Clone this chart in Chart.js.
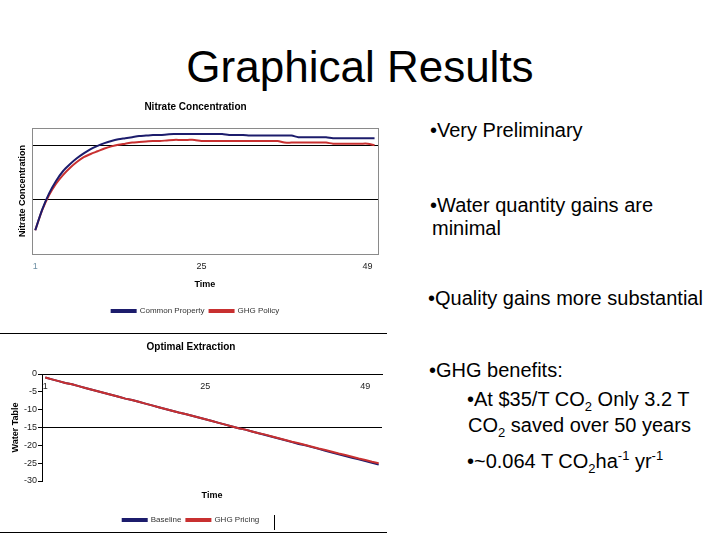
<!DOCTYPE html>
<html>
<head>
<meta charset="utf-8">
<script src="https://cdn.jsdelivr.net/npm/chart.js@4.4.1/dist/chart.umd.min.js"></script>
<style>
    body { margin: 0; width: 720px; height: 540px; background: #fff; position: relative; overflow: hidden; font-family: "Liberation Sans", Arial, sans-serif; }
    .t { position: absolute; font-size: 20px; line-height: 20px; white-space: nowrap; color: #000; }
    sub, sup { font-size: 13px; line-height: 0; }
    #slideTitle { position: absolute; left: 0; width: 720px; top: 42px; text-align: center; font-size: 44px; line-height: 50px; }
    #nitrateBox { position: absolute; left: 0; top: 95px; width: 390px; height: 230px; }
    #extractFrame { position: absolute; left: 0; top: 333px; width: 387px; height: 198px; border-top: 1px solid #000; border-bottom: 1px solid #000; }
    #extractBox { position: absolute; left: 0; top: 334px; width: 387px; height: 200px; }
    #legendBar { position: absolute; left: 274px; top: 515px; width: 1px; height: 15px; background: #000; }
</style>
</head>
<body>

<div id="slideTitle">Graphical Results</div>

<div id="nitrateBox"><canvas id="nitrateChart"></canvas></div>
<div id="extractFrame"></div>
<div id="extractBox"><canvas id="extractChart"></canvas></div>
<div id="legendBar"></div>

<div class="t" style="left:430px; top:120px;">•Very Preliminary</div>
<div class="t" style="left:430px; top:195px;">•Water quantity gains are</div>
<div class="t" style="left:432px; top:218px;">minimal</div>
<div class="t" style="left:428px; top:288px;">•Quality gains more substantial</div>
<div class="t" style="left:429px; top:360px;">•GHG benefits:</div>
<div class="t" style="left:467px; top:389px;">•At $35/T CO<sub>2</sub> Only 3.2 T</div>
<div class="t" style="left:468px; top:415px;">CO<sub>2</sub> saved over 50 years</div>
<div class="t" style="left:467px; top:451px;">•~0.064 T CO<sub>2</sub>ha<sup>-1</sup> yr<sup>-1</sup></div>

<script>
// ================= data ======================
var nitrateLabels = ['1', '2', '3', '4', '5', '6', '7', '8', '9', '10',
    '11', '12', '13', '14', '15', '16', '17', '18', '19', '20',
    '21', '22', '23', '24', '25', '26', '27', '28', '29', '30',
    '31', '32', '33', '34', '35', '36', '37', '38', '39', '40',
    '41', '42', '43', '44', '45', '46', '47', '48', '49', '50'];

var commonProperty = [0.44, 0.82, 1.12, 1.35, 1.53, 1.66, 1.77, 1.86, 1.94, 2.00,
    2.05, 2.09, 2.12, 2.14, 2.16, 2.18, 2.19, 2.20, 2.20, 2.21,
    2.22, 2.22, 2.22, 2.22, 2.22, 2.22, 2.22, 2.22, 2.20, 2.20,
    2.20, 2.19, 2.19, 2.19, 2.19, 2.19, 2.19, 2.19, 2.16, 2.16,
    2.16, 2.16, 2.16, 2.14, 2.14, 2.14, 2.14, 2.14, 2.14, 2.14];

var ghgPolicy = [0.44, 0.81, 1.09, 1.30, 1.46, 1.59, 1.70, 1.79, 1.85, 1.90,
    1.95, 1.99, 2.02, 2.04, 2.06, 2.07, 2.08, 2.09, 2.09, 2.10,
    2.11, 2.11, 2.11, 2.11, 2.09, 2.09, 2.09, 2.09, 2.09, 2.09,
    2.09, 2.09, 2.09, 2.09, 2.09, 2.09, 2.06, 2.06, 2.06, 2.06,
    2.06, 2.06, 2.06, 2.04, 2.04, 2.04, 2.04, 2.04, 2.04, 2.01];

var extractLabels = ['1', '2', '3', '4', '5', '6', '7', '8', '9', '10',
    '11', '12', '13', '14', '15', '16', '17', '18', '19', '20',
    '21', '22', '23', '24', '25', '26', '27', '28', '29', '30',
    '31', '32', '33', '34', '35', '36', '37', '38', '39', '40',
    '41', '42', '43', '44', '45', '46', '47', '48', '49', '50', '51'];

var baseline = [-1.0, -1.5, -2.0, -2.5, -2.9, -3.4, -3.9, -4.4, -4.9, -5.4,
    -5.9, -6.4, -6.9, -7.3, -7.8, -8.3, -8.8, -9.3, -9.8, -10.3,
    -10.8, -11.2, -11.7, -12.2, -12.7, -13.2, -13.7, -14.2, -14.7, -15.2,
    -15.6, -16.1, -16.6, -17.1, -17.6, -18.1, -18.6, -19.1, -19.6, -20.0,
    -20.5, -21.0, -21.5, -22.0, -22.5, -23.0, -23.5, -23.9, -24.4, -24.9, -25.4];

var ghgPricing = [-1.0, -1.5, -2.0, -2.5, -2.9, -3.4, -3.9, -4.4, -4.9, -5.4,
    -5.9, -6.4, -6.9, -7.3, -7.8, -8.3, -8.8, -9.3, -9.8, -10.3,
    -10.8, -11.2, -11.7, -12.2, -12.7, -13.2, -13.7, -14.2, -14.7, -15.2,
    -15.6, -16.1, -16.6, -17.0, -17.5, -18.0, -18.5, -19.0, -19.4, -19.9,
    -20.4, -20.9, -21.3, -21.8, -22.3, -22.7, -23.2, -23.7, -24.1, -24.6, -25.0];

var shownTicks = ['1', '25', '49'];

var navy = '#1c1c6c';
var red = '#c83030';

Chart.defaults.font.family = '"Liberation Sans", Arial, sans-serif';
Chart.defaults.color = '#000';
Chart.defaults.animation = false;

function onlyShownTicks(val) {
    var l = this.getLabelForValue(val);
    return shownTicks.indexOf(l) >= 0 ? l : '';
}

// ================= nitrate chart ======================
var nitrateChart = new Chart(document.getElementById('nitrateChart').getContext('2d'), {
    type: 'line',
    data: {
        labels: nitrateLabels,
        datasets: [{
            label: 'Common Property',
            data: commonProperty,
            borderColor: navy,
            backgroundColor: navy,
            borderWidth: 2,
            pointRadius: 0,
            tension: 0.3
        }, {
            label: 'GHG Policy',
            data: ghgPolicy,
            borderColor: red,
            backgroundColor: red,
            borderWidth: 2,
            pointRadius: 0,
            tension: 0.3
        }]
    },
    options: {
        responsive: true,
        maintainAspectRatio: false,
        layout: { padding: { left: 13, right: 12, top: 0, bottom: 0 } },
        scales: {
            x: {
                offset: true,
                grid: { display: false, drawTicks: false },
                border: { display: false },
                ticks: {
                    autoSkip: false, maxRotation: 0, padding: 7,
                    font: { size: 9 },
                    color: function (ctx) { return ctx.index === 0 ? '#6d8fa3' : '#222'; },
                    callback: onlyShownTicks
                },
                title: { display: true, text: 'Time', font: { size: 9, weight: 'bold' }, padding: { top: 2, bottom: 12 } },
                afterFit: function (scale) { scale.height = 48; }
            },
            y: {
                min: 0,
                max: 2.33,
                ticks: { display: false, stepSize: 1 },
                border: { display: false },
                grid: {
                    drawTicks: false,
                    color: function (ctx) {
                        return (ctx.tick && (ctx.tick.value === 1 || ctx.tick.value === 2)) ? '#000' : 'rgba(0,0,0,0)';
                    }
                },
                title: { display: true, text: 'Nitrate Concentration', font: { size: 9, weight: 'bold' }, padding: { top: 4, bottom: 4 } }
            }
        },
        plugins: {
            title: {
                display: true, text: 'Nitrate Concentration',
                font: { size: 10, weight: 'bold' },
                padding: { top: 6, bottom: 15 }
            },
            legend: {
                position: 'bottom',
                labels: { boxWidth: 24, boxHeight: 2, padding: 5, font: { size: 8 }, color: '#333' }
            },
            tooltip: { enabled: false }
        }
    },
    plugins: [{
        id: 'nitrateFrame',
        afterDraw: function (chart) {
            var a = chart.chartArea, ctx = chart.ctx;
            ctx.save();
            ctx.strokeStyle = '#8a8a8a';
            ctx.lineWidth = 1;
            ctx.strokeRect(Math.round(a.left) + 0.5, Math.round(a.top) + 0.5, Math.round(a.right - a.left), Math.round(a.bottom - a.top));
            ctx.restore();
        }
    }]
});

// ================= extraction chart ======================
var extractChart = new Chart(document.getElementById('extractChart').getContext('2d'), {
    type: 'line',
    data: {
        labels: extractLabels,
        datasets: [{
            label: 'Baseline',
            data: baseline,
            borderColor: navy,
            backgroundColor: navy,
            borderWidth: 2,
            pointRadius: 0,
            order: 1
        }, {
            label: 'GHG Pricing',
            data: ghgPricing,
            borderColor: red,
            backgroundColor: red,
            borderWidth: 2,
            pointRadius: 0,
            order: 0
        }]
    },
    options: {
        responsive: true,
        maintainAspectRatio: false,
        layout: { padding: { left: 0, right: 5, top: 0, bottom: 0 } },
        scales: {
            x: {
                position: { y: 0 },
                offset: true,
                grid: { display: false, drawTicks: false },
                border: { display: true, color: '#000' },
                ticks: {
                    autoSkip: false, maxRotation: 0, padding: 7,
                    font: { size: 9 }, color: '#222',
                    callback: onlyShownTicks
                }
            },
            x2: {
                type: 'category',
                position: 'bottom',
                grid: { display: false, drawTicks: false },
                border: { display: false },
                ticks: { display: false },
                title: { display: true, text: 'Time', font: { size: 9, weight: 'bold' }, padding: { top: 9, bottom: 10 } },
                afterFit: function (scale) { scale.height = 30; }
            },
            y: {
                min: -30,
                max: 0,
                ticks: { stepSize: 5, padding: 1, font: { size: 9 }, color: '#222' },
                border: { display: true, color: '#000' },
                grid: {
                    tickLength: 4,
                    tickColor: '#000',
                    color: function (ctx) {
                        return (ctx.tick && ctx.tick.value === -15) ? '#000' : 'rgba(0,0,0,0)';
                    }
                },
                title: { display: true, text: 'Water Table', font: { size: 9, weight: 'bold' }, padding: { top: 10, bottom: 2 } },
                afterFit: function (scale) { scale.width = 42; }
            }
        },
        plugins: {
            title: {
                display: true, text: 'Optimal Extraction',
                font: { size: 10, weight: 'bold' },
                padding: { top: 7, bottom: 21 }
            },
            legend: {
                position: 'bottom',
                labels: {
                    boxWidth: 24, boxHeight: 2, padding: 5, font: { size: 8 }, color: '#333',
                    sort: function (a, b) { return a.datasetIndex - b.datasetIndex; }
                }
            },
            tooltip: { enabled: false }
        }
    }
});
</script>
</body>
</html>
